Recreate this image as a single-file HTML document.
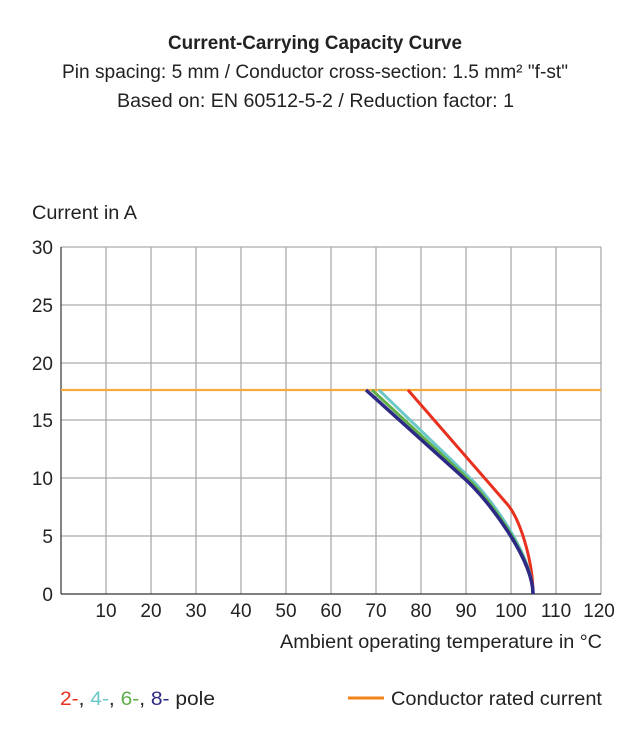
<!DOCTYPE html>
<html><head><meta charset="utf-8"><style>
body{margin:0;background:#fff;}
svg text{font-family:"Liberation Sans",sans-serif;fill:#222;}
</style></head><body>
<svg width="631" height="740" xmlns="http://www.w3.org/2000/svg">
<text x="168" y="49" font-size="19" font-weight="bold" textLength="294" lengthAdjust="spacingAndGlyphs">Current-Carrying Capacity Curve</text>
<text x="62" y="78" font-size="19" textLength="506" lengthAdjust="spacingAndGlyphs">Pin spacing: 5 mm / Conductor cross-section: 1.5 mm² "f-st"</text>
<text x="117" y="107" font-size="19" textLength="397" lengthAdjust="spacingAndGlyphs">Based on: EN 60512-5-2 / Reduction factor: 1</text>
<text x="32" y="219" font-size="19" textLength="105" lengthAdjust="spacingAndGlyphs">Current in A</text>
<g stroke="#aaa" stroke-width="1.3">
<line x1="106" y1="247" x2="106" y2="594"/><line x1="151" y1="247" x2="151" y2="594"/><line x1="196" y1="247" x2="196" y2="594"/><line x1="241" y1="247" x2="241" y2="594"/><line x1="286" y1="247" x2="286" y2="594"/><line x1="331" y1="247" x2="331" y2="594"/><line x1="376" y1="247" x2="376" y2="594"/><line x1="421" y1="247" x2="421" y2="594"/><line x1="466" y1="247" x2="466" y2="594"/><line x1="511" y1="247" x2="511" y2="594"/><line x1="556" y1="247" x2="556" y2="594"/><line x1="601" y1="247" x2="601" y2="594"/>
<line x1="61" y1="247" x2="601" y2="247"/><line x1="61" y1="305" x2="601" y2="305"/><line x1="61" y1="363" x2="601" y2="363"/><line x1="61" y1="420" x2="601" y2="420"/><line x1="61" y1="478" x2="601" y2="478"/><line x1="61" y1="536" x2="601" y2="536"/>
</g>
<g stroke="#333" stroke-width="1.2">
<line x1="61" y1="594" x2="601" y2="594"/><line x1="61" y1="247" x2="61" y2="594"/>
</g>
<g id="tk" stroke="#333" stroke-width="1"></g>
<g font-size="19" text-anchor="middle">
<text x="106" y="617">10</text><text x="151" y="617">20</text><text x="196" y="617">30</text><text x="241" y="617">40</text><text x="286" y="617">50</text><text x="331" y="617">60</text><text x="376" y="617">70</text><text x="421" y="617">80</text><text x="466" y="617">90</text><text x="511" y="617">100</text><text x="556" y="617">110</text><text x="599" y="617">120</text>
</g>
<g font-size="19" text-anchor="end">
<text x="53" y="601">0</text><text x="53" y="543">5</text><text x="53" y="485">10</text><text x="53" y="427">15</text><text x="53" y="370">20</text><text x="53" y="312">25</text><text x="53" y="254">30</text>
</g>
<text x="280" y="648" font-size="19" textLength="322" lengthAdjust="spacingAndGlyphs">Ambient operating temperature in °C</text>
<line x1="61" y1="390" x2="601" y2="390" stroke="#f7a93c" stroke-width="2.2"/>
<g fill="none" stroke-width="3" stroke-linejoin="round">
<path d="M408 390 L508 505 C520 520 533 560 533 594" stroke="#e8301f"/>
<path d="M379 390 L470 478 C490 497 533 555 533 594" stroke="#6cc8c8"/>
<path d="M372 390 L468 479 C489 499 533 557 533 594" stroke="#5fae47"/>
<path d="M366 390 L466 480 C490 502 533 560 533 594" stroke="#2c2a85" stroke-width="3.5"/>
</g>
<text x="60" y="705" font-size="19" textLength="155" lengthAdjust="spacingAndGlyphs"><tspan fill="#e8301f">2-</tspan>, <tspan fill="#6cc8c8">4-</tspan>, <tspan fill="#5fae47">6-</tspan>, <tspan fill="#2c2a85">8-</tspan>  pole</text>
<line x1="348" y1="698" x2="384" y2="698" stroke="#f0831a" stroke-width="3"/>
<text x="391" y="705" font-size="19" textLength="211" lengthAdjust="spacingAndGlyphs">Conductor rated current</text>
<script>
var g=document.getElementById('tk'),s='';
for(var i=0;i<=60;i++){var x=61+i*9;s+='<line x1="'+x+'" y1="594" x2="'+x+'" y2="'+(i%5?597:599)+'"/>';}
for(var j=0;j<=30;j++){var y=594-j*11.567;s+='<line x1="'+(j%5?58:56)+'" y1="'+y+'" x2="61" y2="'+y+'"/>';}
g.innerHTML=s;
</script>
</svg>
</body></html>
